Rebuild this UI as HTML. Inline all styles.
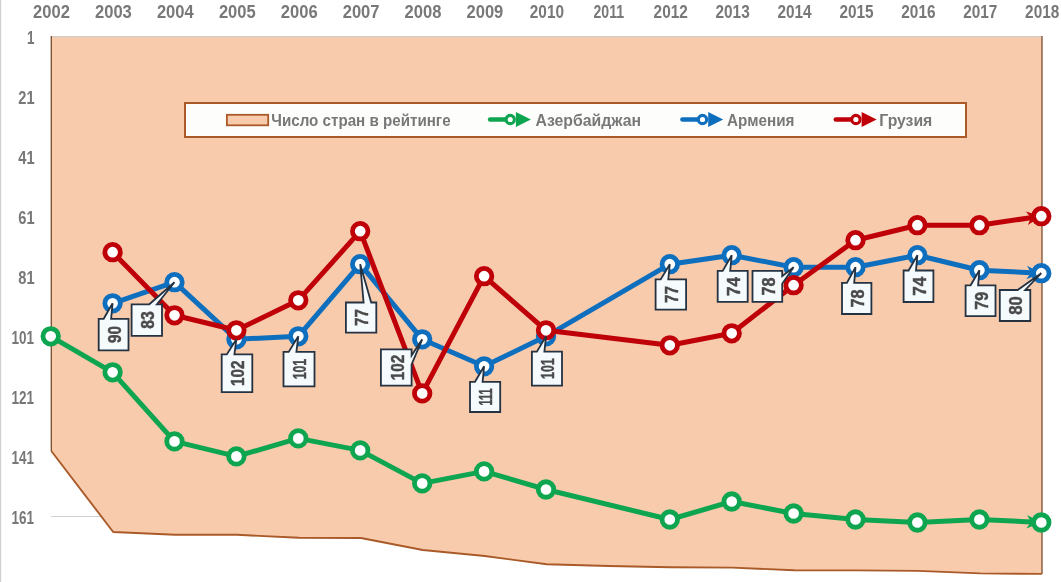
<!DOCTYPE html>
<html><head><meta charset="utf-8"><style>
html,body{margin:0;padding:0;background:#fff;width:1061px;height:582px;overflow:hidden}
svg{display:block;will-change:transform}
text{font-family:"Liberation Sans", sans-serif;font-weight:bold}
</style></head><body>
<svg width="1061" height="582" viewBox="0 0 1061 582">
<rect x="0" y="0" width="1061" height="582" fill="#fff"/>
<rect x="0" y="0" width="1.2" height="582" fill="#d0d0d0"/>

<line x1="51" y1="516.5" x2="110" y2="516.5" stroke="#d0d0d0" stroke-width="1.2"/>
<path d="M51.3,36.0 L1042.0,36.0 L1042.0,573.9 L980.1,573.4 L918.2,570.9 L856.3,570.4 L794.3,570.2 L732.4,567.6 L670.5,567.3 L608.6,566.0 L546.7,564.3 L484.7,556.0 L422.8,550.0 L360.9,538.0 L299.0,537.8 L237.1,534.8 L175.1,534.8 L113.2,532.0 L51.3,451.0 L51.3,36.0" fill="#F8CBAD" stroke="none"/>
<line x1="51.3" y1="36.5" x2="1042.0" y2="36.5" stroke="#DCCABC" stroke-width="1"/>
<line x1="51.3" y1="37.6" x2="1042.0" y2="37.6" stroke="#EACDB8" stroke-width="1.2"/>
<line x1="51.3" y1="36" x2="51.3" y2="451.0" stroke="#7A4C2C" stroke-width="1.3"/>
<line x1="1042.0" y1="36" x2="1042.0" y2="573.9" stroke="#7A4C2C" stroke-width="1.3"/>
<path d="M1042.0,573.9 L1042.0,573.9 L980.1,573.4 L918.2,570.9 L856.3,570.4 L794.3,570.2 L732.4,567.6 L670.5,567.3 L608.6,566.0 L546.7,564.3 L484.7,556.0 L422.8,550.0 L360.9,538.0 L299.0,537.8 L237.1,534.8 L175.1,534.8 L113.2,532.0 L51.3,451.0" fill="none" stroke="#A95A28" stroke-width="1.9" stroke-linejoin="round"/>
<text x="51.5" y="18" text-anchor="middle" font-size="18" fill="#787878" textLength="36.8" lengthAdjust="spacingAndGlyphs">2002</text>
<text x="113.4" y="18" text-anchor="middle" font-size="18" fill="#787878" textLength="36.8" lengthAdjust="spacingAndGlyphs">2003</text>
<text x="175.3" y="18" text-anchor="middle" font-size="18" fill="#787878" textLength="36.8" lengthAdjust="spacingAndGlyphs">2004</text>
<text x="237.3" y="18" text-anchor="middle" font-size="18" fill="#787878" textLength="36.8" lengthAdjust="spacingAndGlyphs">2005</text>
<text x="299.2" y="18" text-anchor="middle" font-size="18" fill="#787878" textLength="36.8" lengthAdjust="spacingAndGlyphs">2006</text>
<text x="361.1" y="18" text-anchor="middle" font-size="18" fill="#787878" textLength="36.8" lengthAdjust="spacingAndGlyphs">2007</text>
<text x="423.0" y="18" text-anchor="middle" font-size="18" fill="#787878" textLength="36.8" lengthAdjust="spacingAndGlyphs">2008</text>
<text x="484.9" y="18" text-anchor="middle" font-size="18" fill="#787878" textLength="36.8" lengthAdjust="spacingAndGlyphs">2009</text>
<text x="546.9" y="18" text-anchor="middle" font-size="18" fill="#787878" textLength="34.2" lengthAdjust="spacingAndGlyphs">2010</text>
<text x="608.8" y="18" text-anchor="middle" font-size="18" fill="#787878" textLength="30.5" lengthAdjust="spacingAndGlyphs">2011</text>
<text x="670.7" y="18" text-anchor="middle" font-size="18" fill="#787878" textLength="34.2" lengthAdjust="spacingAndGlyphs">2012</text>
<text x="732.6" y="18" text-anchor="middle" font-size="18" fill="#787878" textLength="34.2" lengthAdjust="spacingAndGlyphs">2013</text>
<text x="794.5" y="18" text-anchor="middle" font-size="18" fill="#787878" textLength="34.2" lengthAdjust="spacingAndGlyphs">2014</text>
<text x="856.5" y="18" text-anchor="middle" font-size="18" fill="#787878" textLength="34.2" lengthAdjust="spacingAndGlyphs">2015</text>
<text x="918.4" y="18" text-anchor="middle" font-size="18" fill="#787878" textLength="34.2" lengthAdjust="spacingAndGlyphs">2016</text>
<text x="980.3" y="18" text-anchor="middle" font-size="18" fill="#787878" textLength="34.2" lengthAdjust="spacingAndGlyphs">2017</text>
<text x="1042.2" y="18" text-anchor="middle" font-size="18" fill="#787878" textLength="34.2" lengthAdjust="spacingAndGlyphs">2018</text>
<text x="34.6" y="43.5" text-anchor="end" font-size="18" fill="#787878" textLength="7.5" lengthAdjust="spacingAndGlyphs">1</text>
<text x="34.6" y="103.6" text-anchor="end" font-size="18" fill="#787878" textLength="16.3" lengthAdjust="spacingAndGlyphs">21</text>
<text x="34.6" y="163.6" text-anchor="end" font-size="18" fill="#787878" textLength="16.3" lengthAdjust="spacingAndGlyphs">41</text>
<text x="34.6" y="223.7" text-anchor="end" font-size="18" fill="#787878" textLength="16.3" lengthAdjust="spacingAndGlyphs">61</text>
<text x="34.6" y="283.7" text-anchor="end" font-size="18" fill="#787878" textLength="16.3" lengthAdjust="spacingAndGlyphs">81</text>
<text x="33.9" y="343.8" text-anchor="end" font-size="18" fill="#787878" textLength="22.5" lengthAdjust="spacingAndGlyphs">101</text>
<text x="33.9" y="403.9" text-anchor="end" font-size="18" fill="#787878" textLength="22.5" lengthAdjust="spacingAndGlyphs">121</text>
<text x="33.9" y="463.9" text-anchor="end" font-size="18" fill="#787878" textLength="22.5" lengthAdjust="spacingAndGlyphs">141</text>
<text x="33.9" y="524.0" text-anchor="end" font-size="18" fill="#787878" textLength="22.5" lengthAdjust="spacingAndGlyphs">161</text>
<rect x="185" y="103" width="781" height="34" fill="#FDFEFC" stroke="#A95A28" stroke-width="2"/>
<rect x="226.9" y="114.8" width="41.3" height="10.5" fill="#F8CBAD" stroke="#A95A28" stroke-width="1.8"/>
<line x1="490.2" y1="119.5" x2="510.2" y2="119.5" stroke="#0EA550" stroke-width="4.7" stroke-linecap="round"/><path d="M515.9,112.1 L530.9,119.5 L515.9,126.9 Z" fill="#0EA550"/><circle cx="510.2" cy="119.5" r="4.15" fill="#fff" stroke="#0EA550" stroke-width="3.1"/>
<line x1="682.5" y1="119.5" x2="702.5" y2="119.5" stroke="#0F6FBF" stroke-width="4.7" stroke-linecap="round"/><path d="M708.2,112.1 L723.2,119.5 L708.2,126.9 Z" fill="#0F6FBF"/><circle cx="702.5" cy="119.5" r="4.15" fill="#fff" stroke="#0F6FBF" stroke-width="3.1"/>
<line x1="835.9" y1="119.5" x2="855.9" y2="119.5" stroke="#BF0008" stroke-width="4.7" stroke-linecap="round"/><path d="M861.6,112.1 L876.6,119.5 L861.6,126.9 Z" fill="#BF0008"/><circle cx="855.9" cy="119.5" r="4.15" fill="#fff" stroke="#BF0008" stroke-width="3.1"/>
<text x="271.3" y="125.7" font-size="17" fill="#787878" textLength="179.3" lengthAdjust="spacingAndGlyphs">Число стран в рейтинге</text>
<text x="535.5" y="125.7" font-size="17" fill="#787878" textLength="105.5" lengthAdjust="spacingAndGlyphs">Азербайджан</text>
<text x="727" y="125.7" font-size="17" fill="#787878" textLength="67.5" lengthAdjust="spacingAndGlyphs">Армения</text>
<text x="879.3" y="125.7" font-size="17" fill="#787878" textLength="53" lengthAdjust="spacingAndGlyphs">Грузия</text>
<path d="M50.7,336.3 L112.6,372.3 L174.5,441.4 L236.4,456.4 L298.3,438.4 L360.2,450.4 L422.2,483.4 L484.1,471.4 L546.0,489.5 L669.8,519.5 L731.7,501.5 L793.6,513.5 L855.5,519.5 L917.4,522.5 L979.4,519.5 L1041.3,522.5" fill="none" stroke="#0EA550" stroke-width="5" stroke-linejoin="round" stroke-linecap="round"/><path d="M1041.3,522.5 L1027.1,515.0 L1030.8,522.0 L1026.4,528.6 Z" fill="#0EA550"/><circle cx="50.7" cy="336.3" r="7.75" fill="#fff" stroke="#0EA550" stroke-width="4.8"/><circle cx="112.6" cy="372.3" r="7.75" fill="#fff" stroke="#0EA550" stroke-width="4.8"/><circle cx="174.5" cy="441.4" r="7.75" fill="#fff" stroke="#0EA550" stroke-width="4.8"/><circle cx="236.4" cy="456.4" r="7.75" fill="#fff" stroke="#0EA550" stroke-width="4.8"/><circle cx="298.3" cy="438.4" r="7.75" fill="#fff" stroke="#0EA550" stroke-width="4.8"/><circle cx="360.2" cy="450.4" r="7.75" fill="#fff" stroke="#0EA550" stroke-width="4.8"/><circle cx="422.2" cy="483.4" r="7.75" fill="#fff" stroke="#0EA550" stroke-width="4.8"/><circle cx="484.1" cy="471.4" r="7.75" fill="#fff" stroke="#0EA550" stroke-width="4.8"/><circle cx="546.0" cy="489.5" r="7.75" fill="#fff" stroke="#0EA550" stroke-width="4.8"/><circle cx="669.8" cy="519.5" r="7.75" fill="#fff" stroke="#0EA550" stroke-width="4.8"/><circle cx="731.7" cy="501.5" r="7.75" fill="#fff" stroke="#0EA550" stroke-width="4.8"/><circle cx="793.6" cy="513.5" r="7.75" fill="#fff" stroke="#0EA550" stroke-width="4.8"/><circle cx="855.5" cy="519.5" r="7.75" fill="#fff" stroke="#0EA550" stroke-width="4.8"/><circle cx="917.4" cy="522.5" r="7.75" fill="#fff" stroke="#0EA550" stroke-width="4.8"/><circle cx="979.4" cy="519.5" r="7.75" fill="#fff" stroke="#0EA550" stroke-width="4.8"/><circle cx="1041.3" cy="522.5" r="7.75" fill="#fff" stroke="#0EA550" stroke-width="4.8"/>
<path d="M112.6,303.3 L174.5,282.2 L236.4,339.3 L298.3,336.3 L360.2,264.2 L422.2,339.3 L484.1,366.3 L546.0,336.3 L669.8,264.2 L731.7,255.2 L793.6,267.2 L855.5,267.2 L917.4,255.2 L979.4,270.2 L1041.3,273.2" fill="none" stroke="#0F6FBF" stroke-width="5" stroke-linejoin="round" stroke-linecap="round"/><path d="M1041.3,273.2 L1027.1,265.7 L1030.8,272.7 L1026.4,279.3 Z" fill="#0F6FBF"/><circle cx="112.6" cy="303.3" r="7.75" fill="#fff" stroke="#0F6FBF" stroke-width="4.8"/><circle cx="174.5" cy="282.2" r="7.75" fill="#fff" stroke="#0F6FBF" stroke-width="4.8"/><circle cx="236.4" cy="339.3" r="7.75" fill="#fff" stroke="#0F6FBF" stroke-width="4.8"/><circle cx="298.3" cy="336.3" r="7.75" fill="#fff" stroke="#0F6FBF" stroke-width="4.8"/><circle cx="360.2" cy="264.2" r="7.75" fill="#fff" stroke="#0F6FBF" stroke-width="4.8"/><circle cx="422.2" cy="339.3" r="7.75" fill="#fff" stroke="#0F6FBF" stroke-width="4.8"/><circle cx="484.1" cy="366.3" r="7.75" fill="#fff" stroke="#0F6FBF" stroke-width="4.8"/><circle cx="546.0" cy="336.3" r="7.75" fill="#fff" stroke="#0F6FBF" stroke-width="4.8"/><circle cx="669.8" cy="264.2" r="7.75" fill="#fff" stroke="#0F6FBF" stroke-width="4.8"/><circle cx="731.7" cy="255.2" r="7.75" fill="#fff" stroke="#0F6FBF" stroke-width="4.8"/><circle cx="793.6" cy="267.2" r="7.75" fill="#fff" stroke="#0F6FBF" stroke-width="4.8"/><circle cx="855.5" cy="267.2" r="7.75" fill="#fff" stroke="#0F6FBF" stroke-width="4.8"/><circle cx="917.4" cy="255.2" r="7.75" fill="#fff" stroke="#0F6FBF" stroke-width="4.8"/><circle cx="979.4" cy="270.2" r="7.75" fill="#fff" stroke="#0F6FBF" stroke-width="4.8"/><circle cx="1041.3" cy="273.2" r="7.75" fill="#fff" stroke="#0F6FBF" stroke-width="4.8"/>
<path d="M112.6,252.2 L174.5,315.3 L236.4,330.3 L298.3,300.3 L360.2,231.2 L422.2,393.4 L484.1,276.2 L546.0,330.3 L669.8,345.3 L731.7,333.3 L793.6,285.2 L855.5,240.2 L917.4,225.2 L979.4,225.2 L1041.3,216.2" fill="none" stroke="#BF0008" stroke-width="5" stroke-linejoin="round" stroke-linecap="round"/><path d="M1041.3,216.2 L1025.9,211.5 L1030.9,217.7 L1027.9,225.0 Z" fill="#BF0008"/><circle cx="112.6" cy="252.2" r="7.75" fill="#fff" stroke="#BF0008" stroke-width="4.8"/><circle cx="174.5" cy="315.3" r="7.75" fill="#fff" stroke="#BF0008" stroke-width="4.8"/><circle cx="236.4" cy="330.3" r="7.75" fill="#fff" stroke="#BF0008" stroke-width="4.8"/><circle cx="298.3" cy="300.3" r="7.75" fill="#fff" stroke="#BF0008" stroke-width="4.8"/><circle cx="360.2" cy="231.2" r="7.75" fill="#fff" stroke="#BF0008" stroke-width="4.8"/><circle cx="422.2" cy="393.4" r="7.75" fill="#fff" stroke="#BF0008" stroke-width="4.8"/><circle cx="484.1" cy="276.2" r="7.75" fill="#fff" stroke="#BF0008" stroke-width="4.8"/><circle cx="546.0" cy="330.3" r="7.75" fill="#fff" stroke="#BF0008" stroke-width="4.8"/><circle cx="669.8" cy="345.3" r="7.75" fill="#fff" stroke="#BF0008" stroke-width="4.8"/><circle cx="731.7" cy="333.3" r="7.75" fill="#fff" stroke="#BF0008" stroke-width="4.8"/><circle cx="793.6" cy="285.2" r="7.75" fill="#fff" stroke="#BF0008" stroke-width="4.8"/><circle cx="855.5" cy="240.2" r="7.75" fill="#fff" stroke="#BF0008" stroke-width="4.8"/><circle cx="917.4" cy="225.2" r="7.75" fill="#fff" stroke="#BF0008" stroke-width="4.8"/><circle cx="979.4" cy="225.2" r="7.75" fill="#fff" stroke="#BF0008" stroke-width="4.8"/><circle cx="1041.3" cy="216.2" r="7.75" fill="#fff" stroke="#BF0008" stroke-width="4.8"/>
<path d="M98.7,318.8 L103.7,318.8 L112.6,303.3 L111.1,318.8 L128.5,318.8 L128.5,350.3 L98.7,350.3 Z" fill="#F5FAFD" stroke="#243241" stroke-width="1.8" stroke-linejoin="miter"/>
<text transform="translate(120.90,334.55) rotate(-90)" x="0" y="0" text-anchor="middle" font-size="18" fill="#4A4A4A" stroke="#4A4A4A" stroke-width="0.45" textLength="17" lengthAdjust="spacingAndGlyphs">90</text>
<path d="M131.6,304.3 L149.3,304.3 L174.5,282.2 L156.9,304.3 L162.0,304.3 L162.0,335.8 L131.6,335.8 Z" fill="#F5FAFD" stroke="#243241" stroke-width="1.8" stroke-linejoin="miter"/>
<text transform="translate(154.10,320.05) rotate(-90)" x="0" y="0" text-anchor="middle" font-size="18" fill="#4A4A4A" stroke="#4A4A4A" stroke-width="0.45" textLength="17.5" lengthAdjust="spacingAndGlyphs">83</text>
<path d="M221.7,354.4 L226.8,354.4 L236.4,339.3 L234.4,354.4 L252.3,354.4 L252.3,392.2 L221.7,392.2 Z" fill="#F5FAFD" stroke="#243241" stroke-width="1.8" stroke-linejoin="miter"/>
<text transform="translate(244.30,373.30) rotate(-90)" x="0" y="0" text-anchor="middle" font-size="18" fill="#4A4A4A" stroke="#4A4A4A" stroke-width="0.45" textLength="25.5" lengthAdjust="spacingAndGlyphs">102</text>
<path d="M283.5,351.9 L288.7,351.9 L298.3,336.3 L296.4,351.9 L314.5,351.9 L314.5,386.3 L283.5,386.3 Z" fill="#F5FAFD" stroke="#243241" stroke-width="1.8" stroke-linejoin="miter"/>
<text transform="translate(306.30,369.10) rotate(-90)" x="0" y="0" text-anchor="middle" font-size="18" fill="#4A4A4A" stroke="#4A4A4A" stroke-width="0.45" textLength="20.5" lengthAdjust="spacingAndGlyphs">101</text>
<path d="M345.9,302.5 L363.6,302.5 L360.2,264.2 L371.2,302.5 L376.3,302.5 L376.3,332.7 L345.9,332.7 Z" fill="#F5FAFD" stroke="#243241" stroke-width="1.8" stroke-linejoin="miter"/>
<text transform="translate(368.40,317.60) rotate(-90)" x="0" y="0" text-anchor="middle" font-size="18" fill="#4A4A4A" stroke="#4A4A4A" stroke-width="0.45" textLength="17" lengthAdjust="spacingAndGlyphs">77</text>
<path d="M380.9,349.3 L411.6,349.3 L411.6,355.4 L422.2,339.3 L411.6,364.5 L411.6,385.7 L380.9,385.7 Z" fill="#F5FAFD" stroke="#243241" stroke-width="1.8" stroke-linejoin="miter"/>
<text transform="translate(403.55,367.50) rotate(-90)" x="0" y="0" text-anchor="middle" font-size="18" fill="#4A4A4A" stroke="#4A4A4A" stroke-width="0.45" textLength="25.5" lengthAdjust="spacingAndGlyphs">102</text>
<path d="M470.0,381.8 L475.0,381.8 L484.1,366.3 L482.6,381.8 L500.2,381.8 L500.2,412.0 L470.0,412.0 Z" fill="#F5FAFD" stroke="#243241" stroke-width="1.8" stroke-linejoin="miter"/>
<text transform="translate(492.40,396.90) rotate(-90)" x="0" y="0" text-anchor="middle" font-size="18" fill="#4A4A4A" stroke="#4A4A4A" stroke-width="0.45" textLength="17" lengthAdjust="spacingAndGlyphs">111</text>
<path d="M531.9,351.7 L536.9,351.7 L546.0,336.3 L544.4,351.7 L562.0,351.7 L562.0,385.7 L531.9,385.7 Z" fill="#F5FAFD" stroke="#243241" stroke-width="1.8" stroke-linejoin="miter"/>
<text transform="translate(554.25,368.70) rotate(-90)" x="0" y="0" text-anchor="middle" font-size="18" fill="#4A4A4A" stroke="#4A4A4A" stroke-width="0.45" textLength="20.5" lengthAdjust="spacingAndGlyphs">101</text>
<path d="M655.6,279.4 L660.7,279.4 L669.8,264.2 L668.3,279.4 L686.1,279.4 L686.1,309.6 L655.6,309.6 Z" fill="#F5FAFD" stroke="#243241" stroke-width="1.8" stroke-linejoin="miter"/>
<text transform="translate(678.15,294.50) rotate(-90)" x="0" y="0" text-anchor="middle" font-size="18" fill="#4A4A4A" stroke="#4A4A4A" stroke-width="0.45" textLength="17" lengthAdjust="spacingAndGlyphs">77</text>
<path d="M717.7,270.9 L722.7,270.9 L731.7,255.2 L730.2,270.9 L747.7,270.9 L747.7,301.9 L717.7,301.9 Z" fill="#F5FAFD" stroke="#243241" stroke-width="1.8" stroke-linejoin="miter"/>
<text transform="translate(740.00,286.40) rotate(-90)" x="0" y="0" text-anchor="middle" font-size="18" fill="#4A4A4A" stroke="#4A4A4A" stroke-width="0.45" textLength="19" lengthAdjust="spacingAndGlyphs">74</text>
<path d="M752.5,270.9 L782.2,270.9 L782.2,276.1 L793.6,267.2 L782.2,283.8 L782.2,301.9 L752.5,301.9 Z" fill="#F5FAFD" stroke="#243241" stroke-width="1.8" stroke-linejoin="miter"/>
<text transform="translate(774.65,286.40) rotate(-90)" x="0" y="0" text-anchor="middle" font-size="18" fill="#4A4A4A" stroke="#4A4A4A" stroke-width="0.45" textLength="18" lengthAdjust="spacingAndGlyphs">78</text>
<path d="M842.0,282.9 L846.9,282.9 L855.5,267.2 L854.2,282.9 L871.4,282.9 L871.4,314.0 L842.0,314.0 Z" fill="#F5FAFD" stroke="#243241" stroke-width="1.8" stroke-linejoin="miter"/>
<text transform="translate(864.00,298.45) rotate(-90)" x="0" y="0" text-anchor="middle" font-size="18" fill="#4A4A4A" stroke="#4A4A4A" stroke-width="0.45" textLength="18" lengthAdjust="spacingAndGlyphs">78</text>
<path d="M903.6,270.5 L908.6,270.5 L917.4,255.2 L916.0,270.5 L933.4,270.5 L933.4,302.0 L903.6,302.0 Z" fill="#F5FAFD" stroke="#243241" stroke-width="1.8" stroke-linejoin="miter"/>
<text transform="translate(925.80,286.25) rotate(-90)" x="0" y="0" text-anchor="middle" font-size="18" fill="#4A4A4A" stroke="#4A4A4A" stroke-width="0.45" textLength="19" lengthAdjust="spacingAndGlyphs">74</text>
<path d="M965.6,285.3 L970.6,285.3 L979.4,270.2 L978.1,285.3 L995.5,285.3 L995.5,316.2 L965.6,316.2 Z" fill="#F5FAFD" stroke="#243241" stroke-width="1.8" stroke-linejoin="miter"/>
<text transform="translate(987.85,300.75) rotate(-90)" x="0" y="0" text-anchor="middle" font-size="18" fill="#4A4A4A" stroke="#4A4A4A" stroke-width="0.45" textLength="17.8" lengthAdjust="spacingAndGlyphs">79</text>
<path d="M999.8,290.0 L1017.6,290.0 L1041.3,273.2 L1025.2,290.0 L1030.3,290.0 L1030.3,321.0 L999.8,321.0 Z" fill="#F5FAFD" stroke="#243241" stroke-width="1.8" stroke-linejoin="miter"/>
<text transform="translate(1022.35,305.50) rotate(-90)" x="0" y="0" text-anchor="middle" font-size="18" fill="#4A4A4A" stroke="#4A4A4A" stroke-width="0.45" textLength="18.5" lengthAdjust="spacingAndGlyphs">80</text>
</svg></body></html>
